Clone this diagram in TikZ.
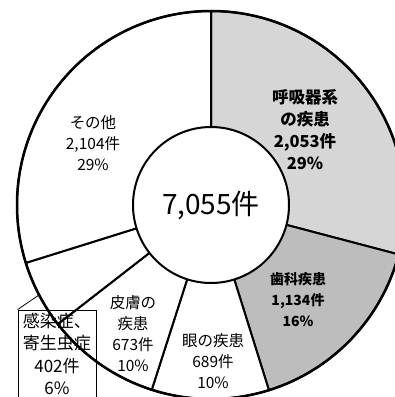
\documentclass[tikz,border=0pt]{standalone}
\usepackage{fontspec}
\setmainfont{Noto Sans CJK JP}
\newlength{\du}
\setlength{\du}{1pt}
\definecolor{dialinecolor}{rgb}{0.000000, 0.000000, 0.000000}
\definecolor{respcolor}{rgb}{0.840000, 0.840000, 0.840000}
\definecolor{dentcolor}{rgb}{0.740000, 0.740000, 0.740000}
\tikzset{
  slice/.style={draw=dialinecolor, line width=2\du, line join=round},
  sectorlabel/.style={align=center, font=\fontsize{15.5pt}{21pt}\selectfont},
  boldlabel/.style={align=center, font=\bfseries\fontsize{16.5pt}{22pt}\selectfont},
}
\begin{document}
\begin{tikzpicture}
\pgftransformxscale{1.000000}
\pgftransformyscale{-1.000000}
\useasboundingbox (0\du,0\du) rectangle (395\du,397\du);
\clip (0\du,0\du) rectangle (395\du,397\du);
\begin{scope}[shift={(211\du,205\du)}]
{
\draw[slice, fill=respcolor] (0,0) -- (-90:194\du) arc[start angle=-90, end angle=14.76, radius=194\du] -- cycle;
}
{
\draw[slice, fill=dentcolor] (0,0) -- (14.76:194\du) arc[start angle=14.76, end angle=72.63, radius=194\du] -- cycle;
}
{
\draw[slice, fill=white] (0,0) -- (72.63:194\du) arc[start angle=72.63, end angle=107.78, radius=194\du] -- cycle;
}
{
\draw[slice, fill=white] (0,0) -- (107.78:194\du) arc[start angle=107.78, end angle=142.13, radius=194\du] -- cycle;
}
{
\draw[slice, fill=white] (0,0) -- (142.13:194\du) arc[start angle=142.13, end angle=162.64, radius=194\du] -- cycle;
}
{
\draw[slice, fill=white] (0,0) -- (162.64:194\du) arc[start angle=162.64, end angle=270, radius=194\du] -- cycle;
}
\draw[line width=2.5\du, draw=dialinecolor] (0,0) circle[radius=194\du];
\coordinate (leadend) at (152.4:194\du);
\node[circle, draw=dialinecolor, fill=white, line width=2\du, minimum size=156\du, inner sep=0pt,
  font=\fontsize{28pt}{28pt}\selectfont] (total) at (0,0) {7,055件};
\end{scope}
\node[boldlabel] (resp) at (305\du,130\du) {呼吸器系\\の疾患\\2,053件\\29\%};
\node[boldlabel, font=\bfseries\fontsize{14pt}{21pt}\selectfont] (dent) at (298\du,300\du) {歯科疾患\\1,134件\\16\%};
\node[sectorlabel] (eye) at (213\du,361\du) {眼の疾患\\689件\\10\%};
\node[sectorlabel] (skin) at (133\du,334\du) {皮膚の\\疾患\\673件\\10\%};
\node[sectorlabel] (other) at (93\du,143\du) {その他\\2,104件\\29\%};
\node[draw=dialinecolor, line width=0.8\du, minimum width=78\du, minimum height=88\du, inner sep=0pt,
  align=center, font=\fontsize{17pt}{22.5pt}\selectfont] (infect) at (57\du,354\du) {感染症、\\寄生虫症\\402件\\6\%};
\draw[line width=0.8\du, draw=dialinecolor] (infect.north west) -- (leadend);
\end{tikzpicture}
\end{document}
